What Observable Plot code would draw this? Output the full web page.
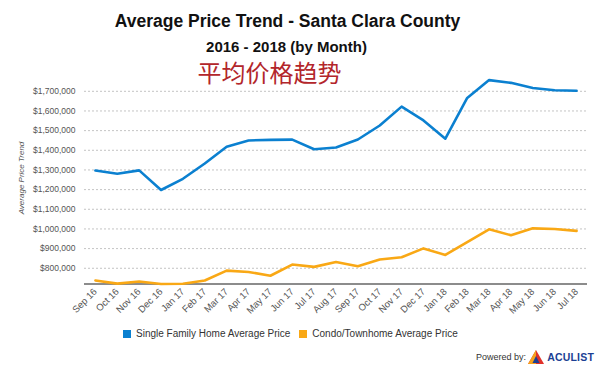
<!DOCTYPE html>
<html>
<head>
<meta charset="utf-8">
<script src="https://cdn.jsdelivr.net/npm/d3@7"></script>
<script src="https://cdn.jsdelivr.net/npm/@observablehq/plot@0.6"></script>
<style>
  html, body { margin: 0; padding: 0; background: #fff; }
  #wrap { position: relative; width: 600px; height: 379px; overflow: hidden; font-family: "Liberation Sans", Arial, sans-serif; }
  #chart { position: absolute; left: 0; top: 0; }
  .abs { position: absolute; white-space: nowrap; line-height: 1; }
  #title { left: 0; width: 575px; text-align: center; top: 13px; font-size: 17.5px; font-weight: bold; color: #111; }
  #subtitle { left: 0; width: 573px; text-align: center; top: 39px; font-size: 15px; font-weight: bold; color: #111; }
  #cn { left: 0; width: 539px; text-align: center; top: 59px; font-size: 24px; font-family: "Noto Sans CJK SC", sans-serif; color: #b3262b; line-height: 26px; }
  #ytitle { left: 21.5px; top: 178px; font-size: 8px; font-style: italic; color: #555; transform: translate(-50%, -50%) rotate(-90deg); }
  #legend { left: 123px; top: 329px; display: flex; align-items: center; font-size: 10px; color: #333; }
  .sw { width: 8px; height: 8px; margin-right: 5px; }
  .item { display: flex; align-items: center; margin-right: 9px; }
  #powered { left: 476px; top: 350px; display: flex; align-items: center; font-size: 9px; color: #333; }
  #logo { display: flex; align-items: center; margin-left: 2px; font-weight: bold; font-size: 10.5px; color: #1c3f94; letter-spacing: 0.2px; }
</style>
</head>
<body>
<div id="wrap">
  <div id="chart"></div>
  <div class="abs" id="title">Average Price Trend - Santa Clara County</div>
  <div class="abs" id="subtitle">2016 - 2018 (by Month)</div>
  <div class="abs" id="cn">平均价格趋势</div>
  <div class="abs" id="ytitle">Average Price Trend</div>
  <div class="abs" id="legend"></div>
  <div class="abs" id="powered">Powered by:<span id="logo"><svg width="16" height="14" viewBox="0 0 16 14"><polygon points="8,0 16,14 0,14" fill="#e0312a"/><polygon points="8,0 0,14 8,14" fill="#f6a21c"/><polygon points="8,6 11.5,13 4.5,13" fill="#1c3f94"/></svg>&nbsp;ACULIST</span></div>
</div>
<script>
const months = ["Sep 16","Oct 16","Nov 16","Dec 16","Jan 17","Feb 17","Mar 17","Apr 17","May 17","Jun 17","Jul 17","Aug 17","Sep 17","Oct 17","Nov 17","Dec 17","Jan 18","Feb 18","Mar 18","Apr 18","May 18","Jun 18","Jul 18"];
const singleFamily = [1297000,1281000,1298000,1198000,1255000,1333000,1418000,1450000,1453000,1454000,1405000,1414000,1455000,1526000,1622000,1552000,1459000,1666000,1757000,1743000,1717000,1705000,1703000];
const condo = [738000,722000,733000,720000,721000,738000,788000,781000,762000,819000,807000,832000,810000,845000,856000,901000,868000,933000,998000,968000,1003000,1000000,990000];
const seriesNames = ["Single Family Home Average Price", "Condo/Townhome Average Price"];
const seriesColors = ["#0b80d0", "#f9a815"];
const yTicks = [800000,900000,1000000,1100000,1200000,1300000,1400000,1500000,1600000,1700000];
const yDomain = [720000, 1760000];

const rows = months.map((m, i) => ({month: m, sfh: singleFamily[i], condo: condo[i]}));

const chart = Plot.plot({
  width: 600,
  height: 379,
  marginTop: 79,
  marginBottom: 95.5,
  marginLeft: 84,
  marginRight: 13,
  style: {fontFamily: "'Liberation Sans', Arial, sans-serif", color: "#555", background: "transparent"},
  x: {type: "point", domain: months, padding: 0.5, align: 0.5, round: false},
  y: {domain: yDomain},
  marks: [
    Plot.ruleY(yTicks, {stroke: "#c4c4c4", strokeDasharray: "2,2", strokeWidth: 1}),
    Plot.ruleY([yDomain[0]], {stroke: "#666", strokeWidth: 1.5}),
    Plot.axisY({ticks: yTicks, tickFormat: d3.format("$,.0f"), tickSize: 0, tickPadding: 9, label: null, fontSize: 8.5}),
    Plot.axisX({tickRotate: -45, tickSize: 0, tickPadding: 6, label: null, fontSize: 9.5}),
    Plot.line(rows, {x: "month", y: "condo", stroke: seriesColors[1], strokeWidth: 2.6}),
    Plot.line(rows, {x: "month", y: "sfh", stroke: seriesColors[0], strokeWidth: 2.6})
  ]
});
document.getElementById("chart").appendChild(chart);

const legend = document.getElementById("legend");
seriesNames.forEach((name, i) => {
  const item = document.createElement("div");
  item.className = "item";
  const sw = document.createElement("div");
  sw.className = "sw";
  sw.style.background = seriesColors[i];
  const t = document.createElement("span");
  t.textContent = name;
  item.appendChild(sw);
  item.appendChild(t);
  legend.appendChild(item);
});
</script>
</body>
</html>
